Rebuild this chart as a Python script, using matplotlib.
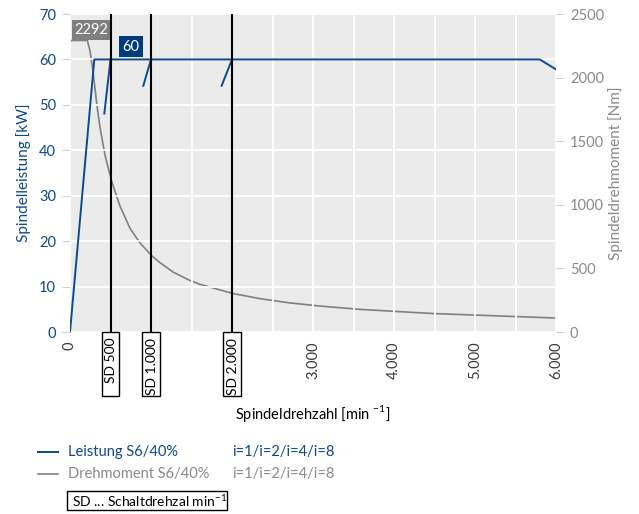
import matplotlib.pyplot as plt
import numpy as np
from matplotlib.lines import Line2D
from matplotlib.patches import Rectangle
from matplotlib.ticker import MultipleLocator
import matplotlib.transforms as mtransforms

plt.rcParams['font.family'] = ['Lato', 'DejaVu Sans']
plt.rcParams['mathtext.fontset'] = 'custom'
plt.rcParams['mathtext.rm'] = 'Lato'

# Spindle power S6/40% [kW] over speed [rpm]
power_rpm = [0, 300, 5800, 6000]
power_kw = [0, 60, 60, 57.8]

# gear shift ramps (start -> shift speed)
ramp_rpm = [[424, 500], [905, 1000], [1872, 2000]]
ramp_kw = [[48.1, 60], [54.2, 60], [54.2, 60]]

# Spindle torque S6/40% [Nm]
torque_rpm = [0, 214, 247, 288, 329, 370, 432, 514, 617, 741, 864, 1008, 1111,
              1276, 1481, 1605, 2008, 2346, 2700, 3086, 3580, 4486, 6000]
torque_nm = [2292, 2292, 2210, 2030, 1800, 1610, 1390, 1185, 990, 815, 700, 600,
             545, 470, 405, 375, 303, 262, 230, 204, 178, 145, 110]

shift_speeds = [500, 1000, 2000]
shift_labels = ['SD 500', 'SD 1.000', 'SD 2.000']

x_ticks = [0, 3000, 4000, 5000, 6000]
x_ticklabels = ['0', '3.000', '4.000', '5.000', '6.000']
kw_ticks = [0, 10, 20, 30, 40, 50, 60, 70]
nm_ticks = [0, 500, 1000, 1500, 2000, 2500]

blue = '#0d4a8f'
dark_blue = '#003b7f'
grey = '#808080'
grey_txt = '#8a8a8a'
bg = '#ebebeb'

fig = plt.figure(figsize=(6.39, 5.14), dpi=100)
ax = fig.add_axes([70/639, 1-332/514, 486/639, 318/514])
ax2 = ax.twinx()
ax.set_zorder(ax2.get_zorder() + 1)
ax.patch.set_visible(False)
ax2.patch.set_visible(True)
ax2.patch.set_facecolor(bg)

for a in (ax, ax2):
    for s in a.spines.values():
        s.set_visible(False)

ax.set_xlim(0, 6000)
ax.set_ylim(0, 70)
ax2.set_ylim(0, 2500)

ax.set_xticks(x_ticks)
ax.set_xticklabels(x_ticklabels, rotation=90, va='top', color='#3a3a3a', fontsize=10.5)
ax.xaxis.set_minor_locator(MultipleLocator(500))
ax.tick_params(axis='x', which='both', length=0, pad=7)
ax.set_yticks(kw_ticks)
ax.set_yticklabels([str(t) for t in kw_ticks], color=blue, fontsize=10.5)
ax.tick_params(axis='y', length=6, color='#d0d0d0', pad=4)
ax.grid(True, which='both', color='white', linewidth=1.3)
ax.set_axisbelow(True)

ax2.set_yticks(nm_ticks)
ax2.set_yticklabels([str(t) for t in nm_ticks], color=grey_txt, fontsize=10.5)
ax2.tick_params(axis='y', length=6, color='#d0d0d0', pad=4)

# curves
ax2.plot(torque_rpm, torque_nm, color=grey, linewidth=1.2)
ax.plot(power_rpm, power_kw, color=blue, linewidth=1.4, zorder=3)
for rx, ry in zip(ramp_rpm, ramp_kw):
    ax.plot(rx, ry, color=blue, linewidth=1.4, zorder=3)

# shift speed lines and boxes
trans = mtransforms.blended_transform_factory(ax.transData, ax.transAxes)
for sd, lab in zip(shift_speeds, shift_labels):
    ax.axvline(sd, color='black', linewidth=1.5, zorder=4)
    ax.add_patch(Rectangle((sd - 111, -0.201), 222, 0.201, transform=trans,
                           facecolor='white', edgecolor='black', linewidth=1,
                           clip_on=False, zorder=5))
    ax.text(sd + 10, -0.018, lab, transform=trans, rotation=90, ha='center', va='top',
            fontsize=10, color='black', zorder=6)

# value labels
ax2.text(265, 2375, '2292', ha='center', va='center', color='white', fontsize=10.5,
         bbox=dict(boxstyle='square,pad=0.2', fc='#7f7f7f', ec='none'), zorder=5)
ax.text(750, 62.8, '60', ha='center', va='center', color='white', fontsize=10.5,
        bbox=dict(boxstyle='square,pad=0.25', fc=dark_blue, ec='none'), zorder=5)

ax.set_ylabel('Spindelleistung [kW]', color=blue, fontsize=11)
ax.yaxis.set_label_coords(-0.080, 0.5)
ax2.set_ylabel('Spindeldrehmoment [Nm]', color=grey_txt, fontsize=11)
ax2.yaxis.set_label_coords(1.107, 0.5)
ax.set_xlabel(r'Spindeldrehzahl [min $^{\mathregular{-1}}$]', fontsize=10.5, color='black')
ax.xaxis.set_label_coords(0.5, -0.224)

# legend
W, H = 639, 514
fig.add_artist(Line2D([38/W, 58/W], [1-452/H, 1-452/H], color=blue, linewidth=1.4))
fig.text(68/W, 1-452/H, 'Leistung S6/40%', color=blue, fontsize=10.5, va='center')
fig.text(232/W, 1-452/H, 'i=1/i=2/i=4/i=8', color=blue, fontsize=10.5, va='center')
fig.add_artist(Line2D([38/W, 58/W], [1-474/H, 1-474/H], color=grey, linewidth=1.2))
fig.text(68/W, 1-474/H, 'Drehmoment S6/40%', color=grey_txt, fontsize=10.5, va='center')
fig.text(232/W, 1-474/H, 'i=1/i=2/i=4/i=8', color=grey_txt, fontsize=10.5, va='center')
fig.add_artist(Rectangle((67/W, 1-510/H), 160/W, 19/H, transform=fig.transFigure,
                         facecolor='white', edgecolor='black', linewidth=1))
fig.text(72/W, 1-500.5/H, r'SD ... Schaltdrehzal min$^{\mathregular{-1}}$', color='black',
         fontsize=10, va='center')

fig.savefig('out.png', dpi=100)
